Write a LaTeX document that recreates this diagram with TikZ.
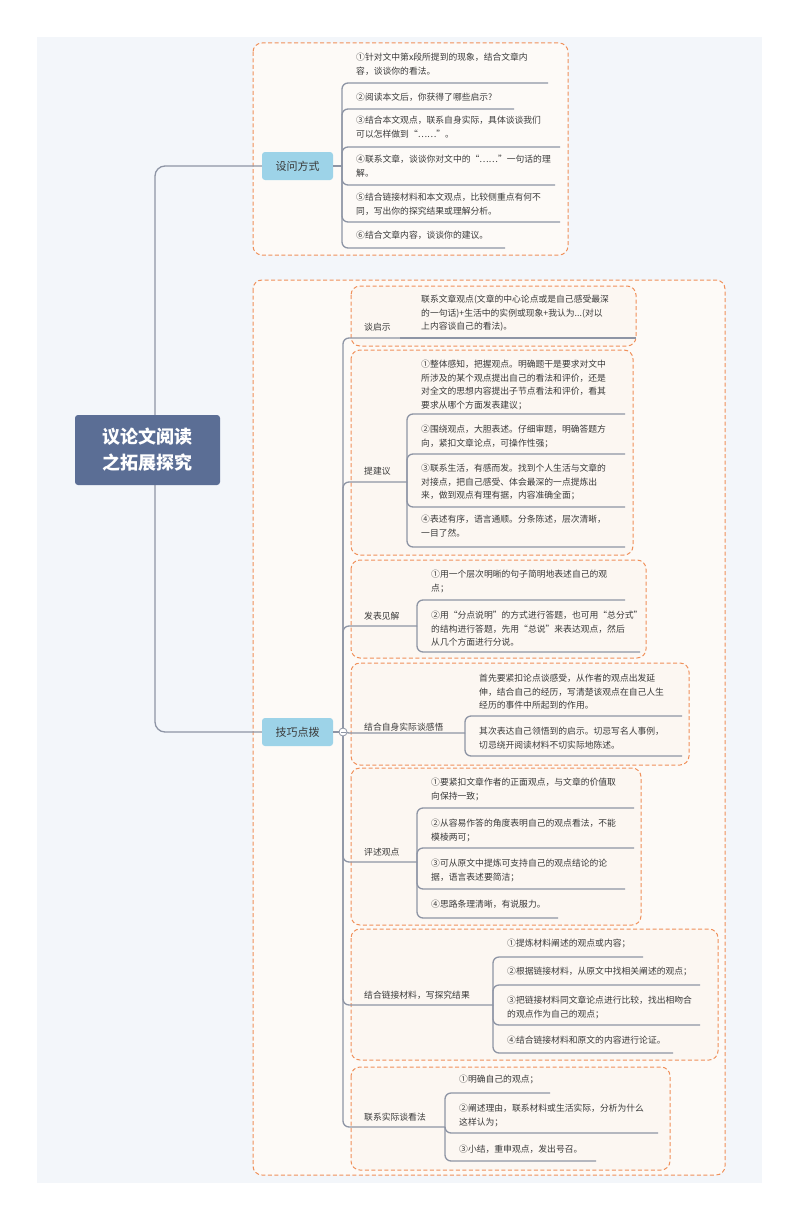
\documentclass[tikz,border=0pt]{standalone}
\usepackage{fontspec}
\setmainfont{Noto Sans CJK SC}
\begin{document}
\begin{tikzpicture}[x=1pt,y=-1pt,
  conn/.style={draw=linegray,line width=1.3pt,rounded corners=6pt},
  grp/.style={draw=dashor,line width=1pt,dash pattern=on 4pt off 2.5pt,rounded corners=9pt,fill=grpfill},
  leaf/.style={font=\fontsize{8.8}{13.6}\selectfont,text=txt,align=left,inner sep=0pt,anchor=north west},
  lab/.style={font=\fontsize{8.8}{12}\selectfont,text=txt,inner sep=0pt,anchor=base west},
  lvl/.style={fill=topblue,rounded corners=3pt,minimum width=71pt,minimum height=28pt,font=\fontsize{11}{13}\selectfont,text=txt}]
\definecolor{linegray}{HTML}{8E95A5}
\definecolor{dashor}{HTML}{F0905A}
\definecolor{grpfill}{HTML}{FCF7F2}
\definecolor{txt}{HTML}{3A3A3A}
\definecolor{topblue}{HTML}{9DD3E8}
\definecolor{rootblue}{HTML}{5B6E95}
\definecolor{panel}{HTML}{F3F6FA}
\useasboundingbox (0,0) rectangle (800,1220);
\fill[white] (0,0) rectangle (800,1220);
\fill[panel] (37,37) rectangle (762,1183);
% leaf macro: #1 name, #2 branch x, #3 parent y, #4 text top y, #5 underline y, #6 underline end x, #7 text
\newcommand\leafitem[7]{%
  \coordinate (#1e) at (#6,#5);
  \draw[conn] (#2,#3) |- (#1e);
  \node[leaf] (#1) at ({#2+14},#4) {#7};}
% group 1
\draw[grp,fill=grpfill!60!white] (253,43) rectangle (568,255);
\node[lvl] (swfs) at (297.5,166) {设问方式};
\draw[conn] (swfs.east) -- (342,166);
\leafitem{s1}{342}{166}{53}{83}{548}{①针对文中第x段所提到的现象，结合文章内\\容，谈谈你的看法。}
\leafitem{s2}{342}{166}{93}{109}{514}{②阅读本文后，你获得了哪些启示?}
\leafitem{s3}{342}{166}{116}{147}{560}{③结合本文观点，联系自身实际，具体谈谈我们\\可以怎样做到“……”。}
\leafitem{s4}{342}{166}{155}{185}{555}{④联系文章，谈谈你对文中的“……”一句话的理\\解。}
\leafitem{s5}{342}{166}{193}{222}{560}{⑤结合链接材料和本文观点，比较侧重点有何不\\同，写出你的探究结果或理解分析。}
\leafitem{s6}{342}{166}{231}{248}{505}{⑥结合文章内容，谈谈你的建议。}
% group 2
\draw[grp,fill=grpfill!60!white] (253,280) rectangle (725,1175);
\draw[grp] (351,286) rectangle (636,346);
\draw[grp] (351,350) rectangle (633,555);
\draw[grp] (351,560) rectangle (646,658);
\draw[grp] (351,663) rectangle (689,765);
\draw[grp] (351,768) rectangle (641,925);
\draw[grp] (351,929) rectangle (718,1060);
\draw[grp] (351,1067) rectangle (670,1170);
\node[lvl] (jqdb) at (297.5,732) {技巧点拨};
\draw[conn] (jqdb.east) -- (343,732);
% level-2 labels
\newcommand\midlab[5]{% name, baseline y, underline y, end x, text
  \coordinate (#1e) at (#4,#3);
  \draw[conn] (343,732) |- (#1e);
  \node[lab] (#1) at (364,#2) {#5};}
\midlab{ta}{330}{338}{400}{谈启示}
\midlab{tb}{474}{482}{407}{提建议}
\midlab{tc}{619}{626}{417}{发表见解}
\midlab{td}{730}{733}{465}{结合自身实际谈感悟}
\midlab{te}{855}{862}{417}{评述观点}
\midlab{tf}{998}{1005}{493}{结合链接材料，写探究结果}
\midlab{tg}{1120}{1127}{445}{联系实际谈看法}
\filldraw[fill=white,draw=linegray,line width=0.8pt] (343,732) circle (4);
\draw[linegray,line width=0.8pt] (340.5,732) -- (345.5,732);
% leaves
\coordinate (a1e) at (636,338);
\draw[conn] (tae) -- (a1e);
\node[leaf] (a1) at (421,295) {联系文章观点(文章的中心论点或是自己感受最深\\的一句话)+生活中的实例或现象+我认为...(对以\\上内容谈自己的看法)。};
\leafitem{b1}{407}{482}{360}{414}{625}{①整体感知，把握观点。明确题干是要求对文中\\所涉及的某个观点提出自己的看法和评价，还是\\对全文的思想内容提出子节点看法和评价，看其\\要求从哪个方面发表建议；}
\leafitem{b2}{407}{482}{425}{454}{625}{②围绕观点，大胆表述。仔细审题，明确答题方\\向，紧扣文章论点，可操作性强；}
\leafitem{b3}{407}{482}{464}{507}{625}{③联系生活，有感而发。找到个人生活与文章的\\对接点，把自己感受、体会最深的一点提炼出\\来，做到观点有理有据，内容准确全面；}
\leafitem{b4}{407}{482}{515}{547}{625}{④表述有序，语言通顺。分条陈述，层次清晰，\\一目了然。}
\leafitem{c1}{417}{626}{570}{600}{625}{①用一个层次明晰的句子简明地表述自己的观\\点；}
\leafitem{c2}{417}{626}{611}{652}{640}{②用“分点说明”的方式进行答题，也可用“总分式”\\的结构进行答题，先用“总说”来表达观点，然后\\从几个方面进行分说。}
\leafitem{d1}{465}{733}{674}{716}{682}{首先要紧扣论点谈感受，从作者的观点出发延\\伸，结合自己的经历，写清楚该观点在自己人生\\经历的事件中所起到的作用。}
\leafitem{d2}{465}{733}{727}{756}{682}{其次表达自己领悟到的启示。切忌写名人事例，\\切忌绕开阅读材料不切实际地陈述。}
\leafitem{e1}{417}{862}{778}{808}{634}{①要紧扣文章作者的正面观点，与文章的价值取\\向保持一致；}
\leafitem{e2}{417}{862}{819}{848}{634}{②从容易作答的角度表明自己的观点看法，不能\\模棱两可；}
\leafitem{e3}{417}{862}{859}{889}{625}{③可从原文中提炼可支持自己的观点结论的论\\据，语言表述要简洁；}
\leafitem{e4}{417}{862}{900}{918}{558}{④思路条理清晰，有说服力。}
\leafitem{f1}{493}{1005}{939}{957}{643}{①提炼材料阐述的观点或内容；}
\leafitem{f2}{493}{1005}{967}{985}{700}{②根据链接材料，从原文中找相关阐述的观点；}
\leafitem{f3}{493}{1005}{996}{1025}{700}{③把链接材料同文章论点进行比较，找出相吻合\\的观点作为自己的观点；}
\leafitem{f4}{493}{1005}{1036}{1053}{673}{④结合链接材料和原文的内容进行论证。}
\leafitem{g1}{445}{1127}{1075}{1093}{550}{①明确自己的观点；}
\leafitem{g2}{445}{1127}{1104}{1133}{658}{②阐述理由，联系材料或生活实际，分析为什么\\这样认为；}
\leafitem{g3}{445}{1127}{1145}{1161}{596}{③小结，重申观点，发出号召。}
% root
\coordinate (rt) at (155,450);
\draw[conn,rounded corners=10pt] (rt) |- (swfs.west);
\draw[conn,rounded corners=10pt] (rt) |- (jqdb.west);
\node[fill=rootblue,rounded corners=3pt,minimum width=145pt,minimum height=70pt,align=center,text=white,font=\fontsize{18}{26}\selectfont\bfseries] (root) at (147.5,450) {议论文阅读\\之拓展探究};
\end{tikzpicture}
\end{document}
